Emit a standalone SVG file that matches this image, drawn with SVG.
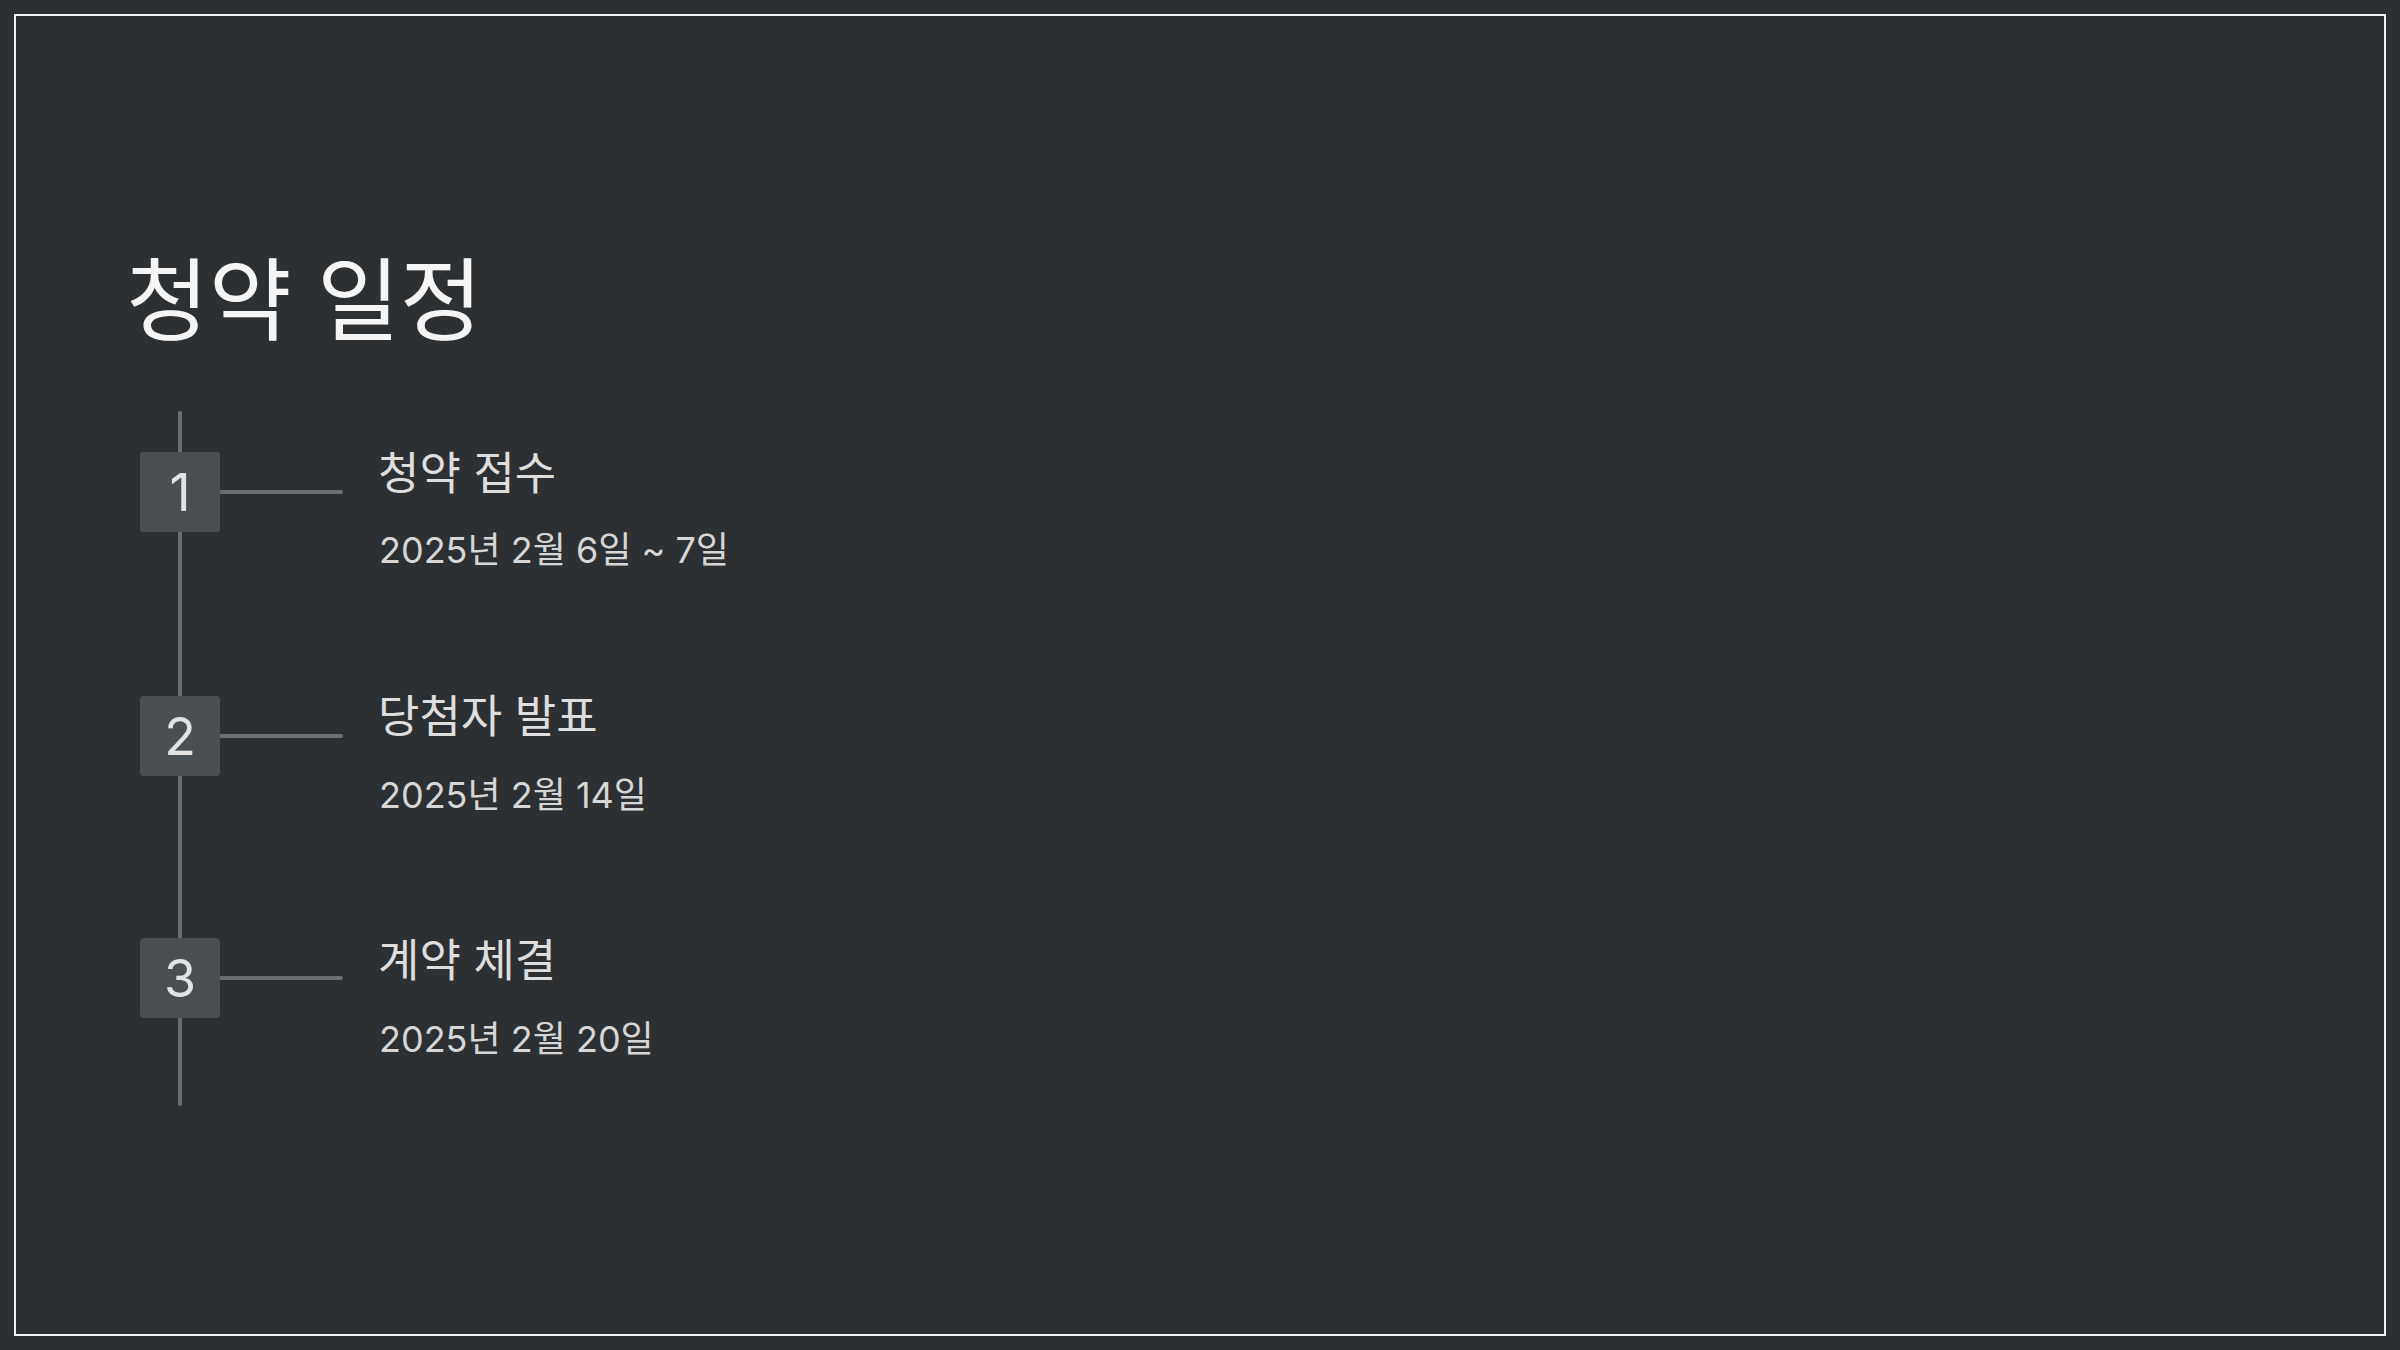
<svg xmlns="http://www.w3.org/2000/svg" width="2400" height="1350" viewBox="0 0 2400 1350">
  <style>
    .bg { fill: #2d3033; }
    .frame { fill: none; stroke: #f2f2f2; stroke-width: 2; }
    .title { font-family: "Inter", "Noto Sans CJK KR", sans-serif; font-size: 90px; fill: #f5f5f5; }
    .box { fill: #4a4f54; }
    .num { font-family: "Inter", "Noto Sans CJK KR", sans-serif; font-size: 52px; fill: #e2e2e2; text-anchor: middle; }
    .head { font-family: "Inter", "Noto Sans CJK KR", sans-serif; font-size: 45px; fill: #dedede; }
    .date { font-family: "Inter", "Noto Sans CJK KR", sans-serif; font-size: 36px; fill: #d6d6d6; }
    .line { stroke: #6b6f73; stroke-width: 4; stroke-linecap: round; fill: none; }
  </style>
  <rect class="bg" x="0" y="0" width="2400" height="1350"/>
  <rect class="frame" x="15" y="15" width="2370" height="1320"/>
  <g id="title">
    <text class="title" x="126" y="333">청약 일정</text>
  </g>
  <g id="connectors">
    <line class="line" x1="180" y1="413" x2="180" y2="1104"/>
    <line class="line" x1="220" y1="492" x2="341" y2="492"/>
    <line class="line" x1="220" y1="736" x2="341" y2="736"/>
    <line class="line" x1="220" y1="978" x2="341" y2="978"/>
  </g>
  <g id="step-1">
    <rect class="box" x="140" y="452" width="80" height="80" rx="4"/>
    <text class="num" x="180" y="511">1</text>
    <text class="head" x="378" y="490">청약 접수</text>
    <text class="date" x="379" y="563">2025년 2월 6일 ~ 7일</text>
  </g>
  <g id="step-2">
    <rect class="box" x="140" y="696" width="80" height="80" rx="4"/>
    <text class="num" x="180" y="755">2</text>
    <text class="head" x="378" y="733">당첨자 발표</text>
    <text class="date" x="379" y="808">2025년 2월 14일</text>
  </g>
  <g id="step-3">
    <rect class="box" x="140" y="938" width="80" height="80" rx="4"/>
    <text class="num" x="180" y="997">3</text>
    <text class="head" x="378" y="977">계약 체결</text>
    <text class="date" x="379" y="1052">2025년 2월 20일</text>
  </g>
</svg>
